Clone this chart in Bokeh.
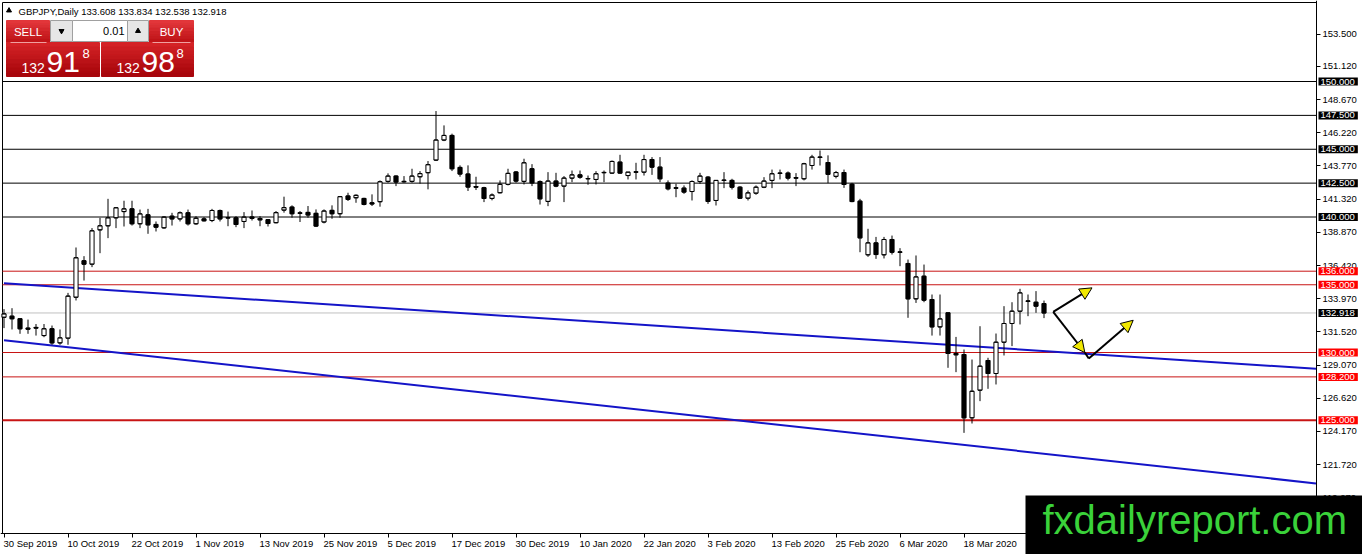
import numpy as np
from bokeh.plotting import figure
from bokeh.models import (Range1d, FixedTicker, PrintfTickFormatter, Label,
                          Arrow, NormalHead, ColumnDataSource)
from bokeh.core.properties import value
from bokeh.embed import file_html
from bokeh.resources import INLINE

# ---------------- data ----------------
opens = [132.60, 132.68, 132.49, 131.80, 131.85, 131.25, 131.75, 130.71, 131.06, 134.08,
         136.77, 136.52, 139.05, 139.35, 139.94, 140.40, 140.60, 139.50, 140.16, 139.45,
         139.20, 140.06, 139.86, 140.31, 139.50, 139.86, 139.74, 140.48, 139.95, 139.94,
         139.67, 140.00, 139.89, 139.80, 139.58, 140.51, 140.73, 140.30, 140.34, 140.27,
         139.63, 140.49, 140.24, 141.55, 141.42, 141.37, 141.05, 141.13, 142.63, 143.02,
         142.63, 142.63, 142.97, 143.27, 144.20, 145.68, 146.02, 143.66, 143.17, 142.25,
         142.16, 141.37, 141.79, 142.41, 143.32, 142.63, 143.56, 142.62, 141.15, 142.65,
         142.28, 142.87, 143.11, 142.84, 142.77, 143.27, 143.24, 144.05, 143.06, 143.33,
         143.31, 144.24, 143.68, 142.50, 142.15, 142.13, 141.88, 142.62, 142.94, 141.22,
         142.70, 142.70, 142.20, 141.39, 141.76, 142.20, 142.70, 143.22, 143.24, 142.90,
         142.82, 143.80, 144.42, 144.02, 143.00, 143.28, 142.42, 141.17, 137.21, 138.09,
         137.21, 138.34, 137.42, 136.57, 133.96, 135.63, 133.91, 131.89, 132.93, 129.93,
         129.85, 125.18, 127.22, 129.41, 128.45, 130.76, 132.14, 133.05, 133.80, 133.71,
         133.608]
highs = [133.20, 133.27, 132.50, 132.43, 132.10, 132.10, 131.99, 131.70, 134.40, 137.75,
         137.11, 139.18, 139.94, 141.34, 140.72, 141.20, 141.20, 140.55, 140.60, 139.67,
         140.06, 140.31, 140.41, 140.55, 140.06, 139.99, 140.60, 140.55, 140.40, 140.06,
         140.36, 140.48, 140.06, 139.82, 140.44, 141.50, 140.86, 140.44, 140.81, 140.56,
         140.56, 140.86, 141.55, 141.79, 141.67, 141.42, 141.67, 142.70, 143.22, 143.07,
         143.02, 143.56, 143.39, 144.13, 147.82, 146.76, 146.15, 143.81, 143.81, 142.97,
         142.23, 141.74, 142.70, 143.56, 143.39, 144.30, 143.90, 142.70, 143.31, 143.26,
         143.02, 143.43, 143.43, 143.06, 143.38, 143.43, 144.17, 144.59, 143.31, 144.00,
         144.59, 144.42, 144.42, 142.70, 142.45, 142.33, 142.70, 143.26, 143.02, 142.70,
         143.31, 142.82, 142.28, 141.96, 142.33, 142.94, 143.50, 143.50, 143.36, 143.24,
         144.00, 144.59, 144.91, 144.55, 143.40, 143.50, 142.52, 141.34, 139.13, 138.53,
         138.53, 138.63, 137.70, 136.86, 137.16, 136.49, 134.28, 134.28, 132.93, 131.15,
         130.22, 129.48, 131.94, 129.61, 131.40, 133.42, 133.71, 134.70, 134.28, 134.53,
         133.834]
lows = [131.80, 131.70, 131.38, 131.38, 131.25, 131.13, 130.57, 130.57, 130.57, 133.84,
        135.31, 136.30, 137.33, 138.44, 139.18, 139.30, 139.37, 139.18, 138.76, 138.93,
        139.13, 139.37, 139.67, 139.37, 139.42, 139.67, 139.62, 139.67, 139.32, 139.25,
        139.18, 139.74, 139.32, 139.30, 139.53, 140.32, 139.95, 139.63, 139.95, 139.26,
        139.53, 139.87, 139.95, 141.18, 141.05, 140.86, 140.81, 140.76, 142.53, 142.28,
        142.53, 142.53, 142.46, 142.04, 144.13, 145.60, 143.39, 142.97, 141.92, 141.99,
        141.10, 141.23, 141.74, 142.33, 142.53, 142.40, 142.28, 140.92, 140.80, 142.20,
        141.10, 142.57, 142.82, 142.38, 142.40, 142.57, 143.19, 143.19, 142.77, 142.77,
        143.06, 143.11, 142.57, 141.96, 141.46, 141.71, 141.22, 142.45, 140.97, 140.85,
        142.13, 142.03, 141.34, 141.22, 141.64, 142.13, 142.13, 142.77, 142.70, 142.28,
        142.70, 143.50, 143.80, 142.50, 142.85, 142.15, 141.09, 137.40, 137.06, 136.91,
        136.94, 137.23, 136.37, 132.56, 133.66, 133.71, 131.25, 131.25, 128.87, 128.55,
        124.07, 124.76, 126.41, 127.32, 127.64, 129.78, 130.47, 132.07, 132.68, 132.93,
        132.538]
closes = [132.85, 132.49, 131.75, 131.72, 131.80, 131.75, 130.71, 131.08, 134.16, 136.99,
          136.52, 138.98, 139.35, 139.94, 140.68, 140.60, 139.50, 140.23, 139.42, 139.25,
          139.99, 139.86, 140.31, 139.50, 139.91, 139.72, 140.48, 139.86, 139.93, 139.45,
          139.99, 139.90, 139.79, 139.52, 140.32, 140.69, 140.24, 140.28, 140.15, 139.33,
          140.44, 140.24, 141.50, 141.30, 141.60, 140.93, 140.96, 142.60, 143.02, 142.58,
          142.60, 143.02, 143.20, 143.86, 145.68, 146.02, 143.56, 143.17, 142.21, 142.20,
          141.37, 141.62, 142.41, 143.22, 142.65, 144.00, 142.52, 141.34, 142.65, 142.28,
          142.87, 143.11, 142.94, 142.82, 143.19, 143.29, 144.10, 143.24, 143.31, 143.31,
          144.24, 143.68, 142.82, 142.08, 142.13, 141.84, 142.62, 143.02, 141.15, 142.70,
          142.72, 142.20, 141.39, 141.78, 142.20, 142.65, 143.19, 143.24, 142.87, 142.87,
          143.93, 144.42, 144.40, 143.15, 143.28, 142.40, 141.14, 138.46, 138.09, 137.23,
          138.34, 137.40, 137.40, 133.96, 135.58, 133.86, 131.89, 132.48, 129.93, 129.83,
          125.18, 127.14, 128.99, 128.45, 130.76, 132.14, 133.05, 134.40, 133.78, 133.42,
          132.918]

date_labels = ["30 Sep 2019", "10 Oct 2019", "22 Oct 2019", "1 Nov 2019", "13 Nov 2019",
               "25 Nov 2019", "5 Dec 2019", "17 Dec 2019", "30 Dec 2019", "10 Jan 2020",
               "22 Jan 2020", "3 Feb 2020", "13 Feb 2020", "25 Feb 2020", "6 Mar 2020",
               "18 Mar 2020"]
date_label_bars = [0, 8, 16, 24, 32, 40, 48, 56, 64, 72, 80, 88, 96, 104, 112, 120]

right_ticks = [153.5, 151.12, 148.67, 146.22, 143.77, 141.32, 138.87, 136.42,
               133.97, 131.52, 129.07, 126.62, 124.17, 121.72, 119.27]

black_levels = [150.0, 147.5, 145.0, 142.5, 140.0]
red_levels = [136.0, 135.0, 130.0, 128.2]
red_thick_levels = [125.0]
current_price = 132.918

trend1_bars = [0, 164]
trend1_prices = [135.11, 128.80]
trend2_bars = [0, 164]
trend2_prices = [130.91, 120.34]

# arrows (bar index, price)
arrow_up_start = (131.15, 133.00)
arrow_up_end = (136.0, 134.77)
arrow_down_end = (135.1, 130.00)
arrow_turn = (135.6, 129.56)
arrow_rise_end = (141.15, 132.38)

header_text = "GBPJPY,Daily  133.608 133.834 132.538 132.918"
sell_parts = ("132", "91", "8")
buy_parts = ("132", "98", "8")
lot_text = "0.01"
watermark = "fxdailyreport.com"

# ---------------- geometry ----------------
FONT = "Liberation Sans"
W, H = 1362, 554

# reference-pixel helpers (chart: 8 px per bar, 13.55 px per yen)
def rx(x):
    return (x - 3.5) / 8.0

def ry(y):
    return 150.0 - (y - 81.0) / 13.55

X_LO, X_HI = rx(0), rx(W)
Y_LO, Y_HI = ry(H), ry(0)
XL, XB = rx(2), rx(1316)      # chart left / right border
YT, YB = ry(2), ry(533)       # chart top / bottom border

p = figure(width=W, height=H, x_range=Range1d(X_LO, X_HI), y_range=Range1d(Y_LO, Y_HI),
           output_backend="svg", toolbar_location=None, y_axis_location="right",
           min_border_left=0, min_border_top=0, min_border_right=0, min_border_bottom=0)
p.xgrid.visible = False
p.ygrid.visible = False
p.outline_line_color = None
p.background_fill_color = "white"
p.border_fill_color = "white"

# right price axis, pinned at the chart border
ya = p.yaxis[0]
ya.fixed_location = XB
ya.ticker = FixedTicker(ticks=right_ticks, minor_ticks=[])
ya.formatter = PrintfTickFormatter(format="%.3f")
ya.major_tick_in = 0
ya.major_tick_out = 4
ya.minor_tick_in = 0
ya.minor_tick_out = 0
ya.major_label_standoff = 2
ya.major_label_text_font = FONT
ya.major_label_text_font_size = "9.5px"
ya.major_label_text_color = "black"
ya.axis_line_color = "black"
ya.major_tick_line_color = "black"

# bottom time axis, pinned at the chart bottom; labels start at each tick
CW = {'0': 556, '1': 556, '2': 556, '3': 556, '4': 556, '5': 556, '6': 556, '7': 556,
      '8': 556, '9': 556, ' ': 278, 'S': 667, 'e': 556, 'p': 556, 'O': 778, 'c': 500,
      't': 278, 'N': 722, 'o': 556, 'v': 500, 'D': 722, 'J': 500, 'a': 556, 'n': 556,
      'F': 611, 'b': 556, 'M': 833, 'r': 333}
px_per_bar = 8.0
centers = []
for b, lab in zip(date_label_bars, date_labels):
    wpx = sum(CW.get(ch, 556) for ch in lab) * 9.5 / 1000.0
    centers.append(round(b + (-0.5 + wpx / 2.0) / px_per_bar, 4))
xa = p.xaxis[0]
xa.fixed_location = YB
xa.ticker = FixedTicker(ticks=centers, minor_ticks=date_label_bars)
xa.major_label_overrides = {c: lab for c, lab in zip(centers, date_labels)}
xa.major_tick_in = 0
xa.major_tick_out = 0
xa.minor_tick_in = 0
xa.minor_tick_out = 4
xa.minor_tick_line_color = "black"
xa.major_label_standoff = 0
xa.major_label_text_font = FONT
xa.major_label_text_font_size = "9.5px"
xa.major_label_text_color = "black"
xa.axis_line_color = "black"

# chart border (left and top; right/bottom are the axis lines)
p.line([XL, XL, XB], [YB, YT, YT], line_color="black", line_width=1)

# horizontal levels
def hlines(levels, color, width):
    n = len(levels)
    p.segment(x0=[XL] * n, y0=levels, x1=[XB] * n, y1=levels,
              line_color=color, line_width=width)

hlines(black_levels, "black", 1)
hlines(red_levels, "#c81414", 1)
hlines(red_thick_levels, "#c81414", 2)
hlines([current_price], "#c0c0c0", 1)

# trend lines
p.line(trend1_bars, trend1_prices, line_color="#1414c8", line_width=2)
p.line(trend2_bars, trend2_prices, line_color="#1414c8", line_width=2)

# candles
o = np.array(opens); h = np.array(highs); l = np.array(lows); c = np.array(closes)
k = np.arange(len(o))
src = ColumnDataSource(dict(k=k, o=o, h=h, l=l, c=c,
                            top=np.maximum(o, c), bottom=np.minimum(o, c),
                            fill=np.where(c >= o, "white", "black"),
                            kl=k - 0.26, kr=k + 0.26))
p.segment(x0="k", y0="l", x1="k", y1="h", line_color="black", line_width=1, source=src)
p.vbar(x="k", width=0.52, top="top", bottom="bottom", fill_color="fill",
       line_color="black", line_width=1, source=src)
p.segment(x0="kl", y0="o", x1="kr", y1="o", line_color="black", line_width=1, source=src)
p.segment(x0="kl", y0="c", x1="kr", y1="c", line_color="black", line_width=1, source=src)

# arrows
def head():
    return NormalHead(size=12, fill_color="#f0e800", line_color="black", line_width=1)

p.add_layout(Arrow(end=head(), x_start=arrow_up_start[0], y_start=arrow_up_start[1],
                   x_end=arrow_up_end[0], y_end=arrow_up_end[1],
                   line_color="black", line_width=2))
p.add_layout(Arrow(end=head(), x_start=arrow_up_start[0], y_start=arrow_up_start[1],
                   x_end=arrow_down_end[0], y_end=arrow_down_end[1],
                   line_color="black", line_width=2))
p.line([arrow_down_end[0], arrow_turn[0]], [arrow_down_end[1], arrow_turn[1]],
       line_color="black", line_width=2)
p.add_layout(Arrow(end=head(), x_start=arrow_turn[0], y_start=arrow_turn[1],
                   x_end=arrow_rise_end[0], y_end=arrow_rise_end[1],
                   line_color="black", line_width=2))

# highlighted price labels on the axis
def level_label(lv, bg):
    p.add_layout(Label(x=XB, y=lv, x_offset=2, text="%.3f" % lv, text_font=FONT,
                       text_font_size="9.5px", text_color="white", text_align="left",
                       text_baseline="middle", background_fill_color=bg,
                       padding=dict(left=2, right=3, top=1, bottom=1)))

for lv in black_levels:
    level_label(lv, "black")
for lv in red_levels + red_thick_levels:
    level_label(lv, "#ff0000")
level_label(current_price, "black")

# ---------------- trade panel (top-left) ----------------
def gradient_box(x0, x1, y0, y1, c_top, c_bot, n=6):
    ct = np.array([int(c_top[i:i + 2], 16) for i in (1, 3, 5)], float)
    cb = np.array([int(c_bot[i:i + 2], 16) for i in (1, 3, 5)], float)
    tops, bots, cols = [], [], []
    for i in range(n):
        ya_ = y0 + (y1 - y0) * i / n
        yb_ = y0 + (y1 - y0) * (i + 1) / n
        t = i / max(n - 1, 1)
        cc = ct + (cb - ct) * t
        tops.append(ry(ya_)); bots.append(ry(yb_))
        cols.append("#%02x%02x%02x" % tuple(int(v) for v in cc))
    p.quad(left=[rx(x0)] * n, right=[rx(x1)] * n, top=tops, bottom=bots,
           fill_color=cols, line_color=cols, line_width=1)

gradient_box(6, 49, 20, 42, "#e2363a", "#c01418")
gradient_box(149, 193, 20, 42, "#e2363a", "#c01418")
gradient_box(6, 99, 42, 76, "#d42226", "#a8060c", n=8)
gradient_box(101, 193, 42, 76, "#d42226", "#a8060c", n=8)
p.segment(x0=[rx(10), rx(152)], y0=[ry(42), ry(42)], x1=[rx(46), rx(190)], y1=[ry(42), ry(42)],
          line_color="#f0a0a0", line_width=1)
# spinner
p.quad(left=[rx(50), rx(127)], right=[rx(72), rx(148)], top=[ry(20), ry(20)],
       bottom=[ry(41), ry(41)], fill_color="#e6e6e6", line_color="#a0a0a0")
p.quad(left=[rx(72)], right=[rx(127)], top=[ry(20)], bottom=[ry(41)],
       fill_color="white", line_color="#a0a0a0")
p.scatter([rx(61)], [ry(30.5)], marker="inverted_triangle", size=5, color="black")
p.scatter([rx(137.5)], [ry(30.5)], marker="triangle", size=5, color="black")
p.text([rx(124)], [ry(30.5)], text=[lot_text], text_font=value(FONT), text_font_size="11px",
       text_color="black", text_align="right", text_baseline="middle")
p.text([rx(27.5), rx(171)], [ry(31), ry(31)], text=["SELL", "BUY"], text_font=value(FONT),
       text_font_size="11.5px", text_color="white", text_align="center",
       text_baseline="middle")
# prices
p.text([rx(21), rx(116)], [ry(67), ry(67)], text=[sell_parts[0], buy_parts[0]],
       text_font=value(FONT), text_font_size="14px", text_color="white",
       text_align="left", text_baseline="middle")
p.text([rx(46), rx(141)], [ry(61.5), ry(61.5)], text=[sell_parts[1], buy_parts[1]],
       text_font=value(FONT), text_font_size="30px", text_color="white",
       text_align="left", text_baseline="middle")
p.text([rx(82), rx(176)], [ry(53), ry(53)], text=[sell_parts[2], buy_parts[2]],
       text_font=value(FONT), text_font_size="13px", text_color="white",
       text_align="left", text_baseline="middle")
# header
p.scatter([rx(8.5)], [ry(10)], marker="triangle", size=5, color="black")
p.text([rx(18)], [ry(10.5)], text=[header_text], text_font=value(FONT), text_font_size="9.5px",
       text_color="black", text_align="left", text_baseline="middle")

# ---------------- watermark (box anchored at its top-left corner) ----------------
p.add_layout(Label(x=rx(1025), y=ry(495), text=watermark, text_font=FONT,
                   text_font_size="40px", text_color="#3ad23a", text_align="left",
                   text_baseline="top", background_fill_color="black",
                   padding=dict(left=17, right=40, top=2, bottom=30)))

open("out.html", "w").write(file_html(p, INLINE))
